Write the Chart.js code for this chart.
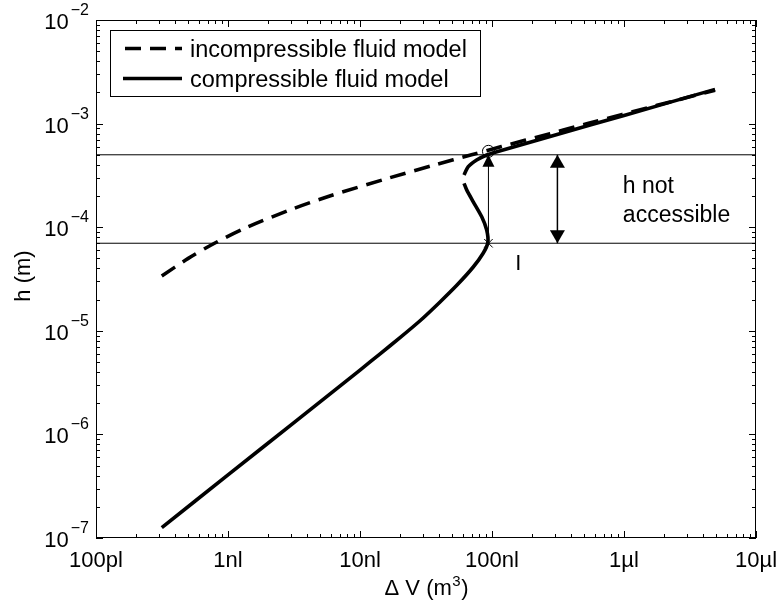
<!DOCTYPE html>
<html>
<head>
<meta charset="utf-8">
<script src="https://cdn.jsdelivr.net/npm/chart.js@4"></script>
<style>
  body { margin: 0; background: #fff; }
  #wrap { width: 781px; height: 612px; }
</style>
</head>
<body>
<div id="wrap"><canvas id="chart" width="781" height="612"></canvas></div>
<script>
// axes: volume change (m^3) vs. height h (m), both log
const xTickVals = [1e-13, 1e-12, 1e-11, 1e-10, 1e-9, 1e-8];
const xTickLabels = ["100pl", "1nl", "10nl", "100nl", "1µl", "10µl"];
const yTickExps = [-7, -6, -5, -4, -3, -2];

// incompressible fluid model
const incompV = [3.15e-13, 5.0e-13, 7.9e-13, 1.40e-12, 3.08e-12, 5.9e-12, 1.68e-11, 3.7e-11, 7.0e-11, 1.18e-10, 2.75e-10, 5.3e-10, 1.78e-9, 4.9e-9];
const incompH = [3.38e-5, 5.0e-5, 7.0e-5, 1.0e-4, 1.5e-4, 2.0e-4, 3.0e-4, 4.0e-4, 5.0e-4, 6.0e-4, 8.0e-4, 1.0e-3, 1.5e-3, 2.1e-3];

// compressible fluid model (null = small break in the curve)
const compV = [3.15e-13, 1.0e-12, 3.16e-12, 1.0e-11, 1.42e-11, 2.01e-11, 2.85e-11, 4.04e-11, 5.41e-11, 7.21e-11, 8.59e-11, 9.3e-11,
  9.12e-11, 8.36e-11, 7.21e-11, 6.43e-11, 6.14e-11, 6.14e-11, 6.14e-11, 6.61e-11, 7.65e-11, 9.12e-11, 1.09e-10,
  3.16e-10, 1.0e-9, 4.89e-9];
const compH = [1.26e-7, 4.06e-7, 1.30e-6, 4.18e-6, 6.0e-6, 8.59e-6, 1.25e-5, 1.90e-5, 2.75e-5, 4.13e-5, 5.64e-5, 7.1e-5,
  9.4e-5, 1.26e-4, 1.76e-4, 2.29e-4, 2.65e-4, null, 3.19e-4, 3.84e-4, 4.45e-4, 4.98e-4, 5.36e-4,
  7.9e-4, 1.20e-3, 2.14e-3];

// limits of the inaccessible band
const hLow = 7.0e-5;
const hHigh = 5.0e-4;
const xMin = 1e-13, xMax = 1e-8;

// arrows: [volume, arrowhead at bottom?, arrowhead at top?]
const arrowV = [9.4e-11, 3.13e-10];
const arrowHeads = [[false, true], [true, true]];

// markers
const crossPt = { x: 9.4e-11, y: 7.0e-5 };
const circlePt = { x: 9.4e-11, y: 5.4e-4 };

// text annotations
const noteLines = ["h not", "accessible"];
const notePos = { x: 9.8e-10, y: 2.12e-4 };
const pointLabel = "I";
const pointLabelPos = { x: 1.58e-10, y: 3.86e-5 };

const FONT = "'Liberation Sans', Arial, Helvetica, sans-serif";

function zip(xs, ys) {
  return xs.map((v, i) => ({ x: v, y: ys[i] }));
}

const datasets = [
  {
    label: "incompressible fluid model",
    data: zip(incompV, incompH),
    borderColor: "#000",
    borderWidth: 3.6,
    borderDash: [16, 9],
    tension: 0.3,
    legend: true,
  },
  {
    label: "compressible fluid model",
    data: zip(compV, compH),
    borderColor: "#000",
    borderWidth: 3.6,
    tension: 0.25,
    spanGaps: false,
    legend: true,
  },
  {
    label: "upper limit",
    data: [{ x: xMin, y: hHigh }, { x: xMax, y: hHigh }],
    borderColor: "#000",
    borderWidth: 1,
  },
  {
    label: "lower limit",
    data: [{ x: xMin, y: hLow }, { x: xMax, y: hLow }],
    borderColor: "#000",
    borderWidth: 1,
  },
];

arrowV.forEach((v, i) => {
  datasets.push({
    label: "arrow " + i,
    data: [{ x: v, y: hLow }, { x: v, y: hHigh }],
    borderColor: "#000",
    borderWidth: i === 0 ? 1 : 1.5,
  });
});

datasets.push({
  label: "cross",
  data: [crossPt],
  showLine: false,
  pointStyle: "crossRot",
  pointRadius: 6,
  borderColor: "#000",
  borderWidth: 1,
});
datasets.push({
  label: "circle",
  data: [circlePt],
  showLine: false,
  pointStyle: "circle",
  pointRadius: 6,
  borderColor: "#000",
  backgroundColor: "rgba(0,0,0,0)",
  borderWidth: 1,
});

datasets.forEach((d) => {
  if (d.showLine === undefined) d.showLine = true;
  if (d.pointRadius === undefined) d.pointRadius = 0;
});

// frame, ticks, labels, legend and arrowheads drawn in MATLAB style
const framePlugin = {
  id: "frame",
  afterDatasetsDraw(chart) {
    const { ctx, chartArea: a, scales } = chart;
    const sx = scales.x, sy = scales.y;
    ctx.save();
    ctx.strokeStyle = "#000";
    ctx.fillStyle = "#000";
    ctx.lineWidth = 1;

    // box
    ctx.strokeRect(a.left + 0.5, a.top + 0.5, a.right - a.left - 1, a.bottom - a.top - 1);

    // ticks, inward on all four sides
    ctx.beginPath();
    for (let d = -13; d <= -8; d++) {
      for (let m = 1; m <= 9; m++) {
        const v = m * Math.pow(10, d);
        if (v > xMax * 1.0001) break;
        const px = Math.round(sx.getPixelForValue(v)) + 0.5;
        const len = m === 1 ? 7 : 4;
        ctx.moveTo(px, a.bottom);
        ctx.lineTo(px, a.bottom - len);
        ctx.moveTo(px, a.top);
        ctx.lineTo(px, a.top + len);
      }
    }
    for (let d = -7; d <= -2; d++) {
      for (let m = 1; m <= 9; m++) {
        const v = m * Math.pow(10, d);
        if (v > 1e-2 * 1.0001) break;
        const py = Math.round(sy.getPixelForValue(v)) + 0.5;
        const len = m === 1 ? 7 : 4;
        ctx.moveTo(a.left, py);
        ctx.lineTo(a.left + len, py);
        ctx.moveTo(a.right, py);
        ctx.lineTo(a.right - len, py);
      }
    }
    ctx.stroke();

    // x tick labels
    ctx.font = "22px " + FONT;
    ctx.textAlign = "center";
    ctx.textBaseline = "alphabetic";
    xTickVals.forEach((v, i) => {
      ctx.fillText(xTickLabels[i], sx.getPixelForValue(v), a.bottom + 29);
    });

    // y tick labels with superscript exponents
    ctx.textAlign = "left";
    yTickExps.forEach((e) => {
      const py = sy.getPixelForValue(Math.pow(10, e));
      const sup = "\u2212" + Math.abs(e);
      ctx.font = "16px " + FONT;
      const ws = ctx.measureText(sup).width;
      ctx.font = "22px " + FONT;
      const wb = ctx.measureText("10").width;
      const xs = a.left - 7 - ws;
      const xb = xs - 2 - wb;
      ctx.fillText("10", xb, py + 9);
      ctx.font = "16px " + FONT;
      ctx.fillText(sup, xs, py - 5);
    });

    // x axis title
    const t1 = "\u0394 V (m", t2 = "3", t3 = ")";
    ctx.font = "22px " + FONT;
    const w1 = ctx.measureText(t1).width, w3 = ctx.measureText(t3).width;
    ctx.font = "15px " + FONT;
    const w2 = ctx.measureText(t2).width;
    let tx = (a.left + a.right) / 2 - (w1 + w2 + w3) / 2;
    const ty = a.bottom + 57;
    ctx.font = "22px " + FONT;
    ctx.fillText(t1, tx, ty);
    ctx.font = "15px " + FONT;
    ctx.fillText(t2, tx + w1 + 0.5, ty - 9);
    ctx.font = "22px " + FONT;
    ctx.fillText(t3, tx + w1 + w2 + 1, ty);

    // y axis title
    ctx.save();
    ctx.translate(30, (a.top + a.bottom) / 2 - 3);
    ctx.rotate(-Math.PI / 2);
    ctx.textAlign = "center";
    ctx.fillText("h (m)", 0, 0);
    ctx.restore();

    // arrowheads
    arrowV.forEach((v, i) => {
      const px = sx.getPixelForValue(v);
      const yTop = sy.getPixelForValue(hHigh);
      const yBot = sy.getPixelForValue(hLow);
      const hw = i === 0 ? 6 : 7.5;
      const hl = i === 0 ? 12 : 13;
      if (arrowHeads[i][1]) {
        ctx.beginPath();
        ctx.moveTo(px, yTop);
        ctx.lineTo(px - hw, yTop + hl);
        ctx.lineTo(px + hw, yTop + hl);
        ctx.closePath();
        ctx.fill();
      }
      if (arrowHeads[i][0]) {
        ctx.beginPath();
        ctx.moveTo(px, yBot);
        ctx.lineTo(px - hw, yBot - hl);
        ctx.lineTo(px + hw, yBot - hl);
        ctx.closePath();
        ctx.fill();
      }
    });

    // annotation text
    ctx.font = "23px " + FONT;
    ctx.textAlign = "left";
    const nx = sx.getPixelForValue(notePos.x);
    const ny = sy.getPixelForValue(notePos.y);
    noteLines.forEach((s, i) => ctx.fillText(s, nx, ny + i * 28.5));
    ctx.font = "22px " + FONT;
    ctx.textAlign = "center";
    ctx.fillText(pointLabel, sx.getPixelForValue(pointLabelPos.x), sy.getPixelForValue(pointLabelPos.y));

    // legend
    const lx = a.left + 14, ly = a.top + 10, lw = 370, lh = 66;
    ctx.fillStyle = "#fff";
    ctx.fillRect(lx, ly, lw, lh);
    ctx.strokeStyle = "#000";
    ctx.lineWidth = 1;
    ctx.strokeRect(lx + 0.5, ly + 0.5, lw, lh);
    ctx.fillStyle = "#000";
    ctx.font = "23.5px " + FONT;
    ctx.textAlign = "left";
    chart.data.datasets.filter((d) => d.legend).forEach((d, i) => {
      const rowY = ly + 18.5 + i * 30;
      ctx.save();
      ctx.lineWidth = d.borderWidth;
      ctx.setLineDash(d.borderDash || []);
      ctx.lineDashOffset = -2;
      ctx.beginPath();
      ctx.moveTo(lx + 13, rowY);
      ctx.lineTo(lx + 72, rowY);
      ctx.stroke();
      ctx.restore();
      ctx.fillText(d.label, lx + 80, rowY + 8);
    });

    ctx.restore();
  },
};

new Chart(document.getElementById("chart"), {
  type: "scatter",
  data: { datasets: datasets },
  options: {
    responsive: false,
    animation: false,
    devicePixelRatio: 1,
    layout: { padding: { top: 20, right: 25, left: 0, bottom: 0 } },
    plugins: {
      legend: { display: false },
      tooltip: { enabled: false },
    },
    scales: {
      x: {
        type: "logarithmic",
        min: xMin,
        max: xMax,
        ticks: { display: false },
        grid: { display: false },
        border: { display: false },
        afterFit: (s) => { s.height = 74; },
      },
      y: {
        type: "logarithmic",
        min: 1e-7,
        max: 1e-2,
        ticks: { display: false },
        grid: { display: false },
        border: { display: false },
        afterFit: (s) => { s.width = 96; },
      },
    },
  },
  plugins: [framePlugin],
});
</script>
</body>
</html>
